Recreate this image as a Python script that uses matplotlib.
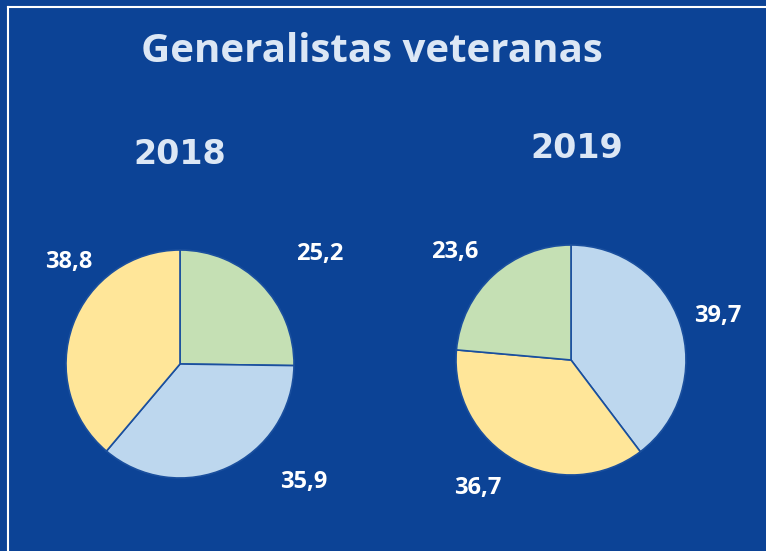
import matplotlib
matplotlib.use("Agg")
import matplotlib.pyplot as plt
from matplotlib.lines import Line2D

W, H = 766, 551
DPI = 100

title = "Generalistas veteranas"
years = ["2018", "2019"]
values_2018 = [25.2, 35.9, 38.8]
values_2019 = [39.7, 36.7, 23.6]
labels_2018 = ["25,2", "35,9", "38,8"]
labels_2019 = ["39,7", "36,7", "23,6"]

GREEN = "#C5E0B4"
BLUE = "#BDD7EE"
YELLOW = "#FFE699"
colors_2018 = [GREEN, BLUE, YELLOW]
colors_2019 = [BLUE, YELLOW, GREEN]

BG = "#0C4396"
TXT = "#DCE7F5"
EDGE = "#1A4F9E"

fig = plt.figure(figsize=(W / DPI, H / DPI), dpi=DPI, facecolor=BG)

def px(x, y):
    return x / W, 1 - y / H

# white frame (top and left edges visible)
fig.add_artist(Line2D([8 / W, 1.0], [1 - 7 / H] * 2, transform=fig.transFigure,
                      color="white", linewidth=1.5))
fig.add_artist(Line2D([8 / W] * 2, [0.0, 1 - 7 / H], transform=fig.transFigure,
                      color="white", linewidth=1.5))

fig.text(*px(372, 52), title, ha="center", va="center", color=TXT,
         fontsize=29, fontweight="bold", family="Open Sans")
fig.text(*px(180, 155), years[0], ha="center", va="center", color=TXT,
         fontsize=24, fontweight="bold", family="DejaVu Sans")
fig.text(*px(577, 149), years[1], ha="center", va="center", color=TXT,
         fontsize=24, fontweight="bold", family="DejaVu Sans")

def pie_axes(cx, cy, r):
    return fig.add_axes([(cx - r) / W, 1 - (cy + r) / H, 2 * r / W, 2 * r / H])

ax1 = pie_axes(180, 364, 114)
ax1.pie(values_2018, colors=colors_2018, startangle=90, counterclock=False,
        wedgeprops=dict(edgecolor=EDGE, linewidth=1.2))
ax1.set_xlim(-1, 1); ax1.set_ylim(-1, 1); ax1.set_aspect("equal"); ax1.axis("off")

ax2 = pie_axes(571, 360, 115)
ax2.pie(values_2019, colors=colors_2019, startangle=90, counterclock=False,
        wedgeprops=dict(edgecolor=EDGE, linewidth=1.2))
ax2.set_xlim(-1, 1); ax2.set_ylim(-1, 1); ax2.set_aspect("equal"); ax2.axis("off")

label_pos_2018 = [(320, 254), (304, 482), (69, 262)]
label_pos_2019 = [(718, 316), (478, 488), (455, 252)]
for lab, (x, y) in zip(labels_2018, label_pos_2018):
    fig.text(*px(x, y), lab, ha="center", va="center", color="white",
             fontsize=17, fontweight="bold", family="Open Sans")
for lab, (x, y) in zip(labels_2019, label_pos_2019):
    fig.text(*px(x, y), lab, ha="center", va="center", color="white",
             fontsize=17, fontweight="bold", family="Open Sans")

fig.savefig("out.png", dpi=DPI, facecolor=BG)
